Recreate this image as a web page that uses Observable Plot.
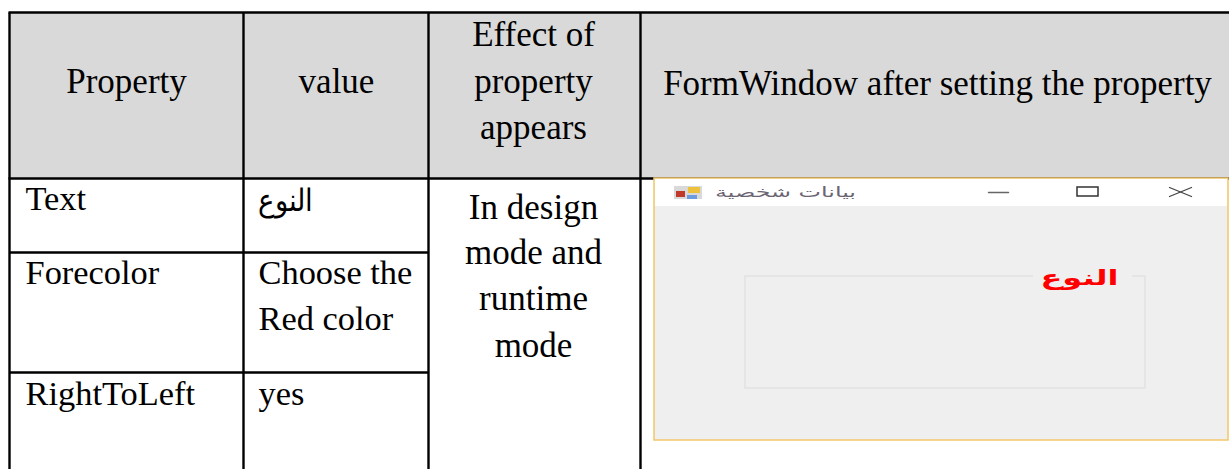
<!DOCTYPE html>
<html>
<head>
<meta charset="utf-8">
<script src="https://cdn.jsdelivr.net/npm/d3@7"></script>
<script src="https://cdn.jsdelivr.net/npm/@observablehq/plot@0.6"></script>
<style>html,body{margin:0;padding:0;background:#fff;overflow:hidden}svg{display:block}</style>
</head>
<body>
<div id="chart"></div>
<script>
const headerFills = [{x1: 9, x2: 1229, y1: 12, y2: 178}];
const tableRules = [
  {x1: 8, x2: 1229, y1: 12, y2: 12},
  {x1: 8, x2: 1229, y1: 178, y2: 178},
  {x1: 9, x2: 428, y1: 252, y2: 252},
  {x1: 9, x2: 428, y1: 372, y2: 372},
  {x1: 9, x2: 9, y1: 12, y2: 469},
  {x1: 243, x2: 243, y1: 12, y2: 469},
  {x1: 428, x2: 428, y1: 12, y2: 469},
  {x1: 640, x2: 640, y1: 12, y2: 469}
];
const centeredCells = [
  {x: 126, y: 81, t: "Property"},
  {x: 336, y: 81, t: "value"},
  {x: 533, y: 34, t: "Effect of"},
  {x: 533, y: 81, t: "property"},
  {x: 533, y: 127, t: "appears"},
  {x: 937, y: 83, t: "FormWindow after setting the property"},
  {x: 533, y: 207, t: "In design"},
  {x: 533, y: 252, t: "mode and"},
  {x: 533, y: 298, t: "runtime"},
  {x: 533, y: 345, t: "mode"}
];
const leftCells = [
  {x: 25, y: 198, t: "Text"},
  {x: 25, y: 272, t: "Forecolor"},
  {x: 25, y: 393, t: "RightToLeft"},
  {x: 258, y: 272, t: "Choose the"},
  {x: 258, y: 318, t: "Red color"},
  {x: 258, y: 393, t: "yes"}
];
const arabicCell = [{x: 285, y: 201, t: "النوع"}];
const windowFrame = [{x1: 654, x2: 1228, y1: 178, y2: 440}];
const titleBar = [{x1: 655, x2: 1227, y1: 179, y2: 206}];
const groupBox = [{x1: 745, x2: 1145, y1: 276, y2: 388}];
const legendGap = [{x1: 1033, x2: 1132, y1: 270, y2: 282}];
const iconParts = [
  {x1: 674, x2: 702, y1: 186, y2: 199, c: "#d9d9d9"},
  {x1: 676, x2: 685, y1: 191, y2: 197, c: "#c0392b"},
  {x1: 688, x2: 700, y1: 187, y2: 193, c: "#eec13c"},
  {x1: 687, x2: 697, y1: 195, y2: 199, c: "#6c9be0"}
];
const minimizeLine = [{x: 988, y: 192}, {x: 1008, y: 192}];
const maximizeBox = [{x1: 1077, x2: 1098, y1: 187, y2: 196}];
const closeA = [{x: 1169, y: 187}, {x: 1191, y: 196}];
const closeB = [{x: 1169, y: 196}, {x: 1191, y: 187}];
const windowTitle = [{x: 785, y: 192, t: "بيانات شخصية"}];
const legendLabel = [{x: 1079, y: 278, t: "النوع"}];

const serif = "Liberation Serif";
const plot = Plot.plot({
  width: 1229,
  height: 469,
  margin: 0,
  x: {axis: null, domain: [0, 1229], range: [0, 1229]},
  y: {axis: null, domain: [0, 469], range: [0, 469]},
  marks: [
    Plot.rect(headerFills, {x1: "x1", x2: "x2", y1: "y1", y2: "y2", fill: "#d9d9d9"}),
    Plot.link(tableRules, {x1: "x1", x2: "x2", y1: "y1", y2: "y2", stroke: "#000", strokeWidth: 2.4}),
    Plot.text(centeredCells, {x: "x", y: "y", text: "t", fontFamily: serif, fontSize: 35, fill: "#000", textAnchor: "middle"}),
    Plot.text(leftCells, {x: "x", y: "y", text: "t", fontFamily: serif, fontSize: 34.4, fill: "#000", textAnchor: "start"}),
    Plot.text(arabicCell, {x: "x", y: "y", text: "t", fontFamily: serif, fontSize: 31, fill: "#000", textAnchor: "middle", className: "cell-arabic"}),
    Plot.rect(windowFrame, {x1: "x1", x2: "x2", y1: "y1", y2: "y2", fill: "#efefef", stroke: "#f2c76a", strokeWidth: 1.5}),
    Plot.rect(titleBar, {x1: "x1", x2: "x2", y1: "y1", y2: "y2", fill: "#fff"}),
    Plot.rect(iconParts, {x1: "x1", x2: "x2", y1: "y1", y2: "y2", fill: "c"}),
    Plot.text(windowTitle, {x: "x", y: "y", text: "t", fontFamily: "DejaVu Sans", fontSize: 14, fill: "#6a6472", textAnchor: "middle", className: "win-title"}),
    Plot.line(minimizeLine, {x: "x", y: "y", stroke: "#666", strokeWidth: 1.5}),
    Plot.rect(maximizeBox, {x1: "x1", x2: "x2", y1: "y1", y2: "y2", fill: "none", stroke: "#333", strokeWidth: 1.5}),
    Plot.line(closeA, {x: "x", y: "y", stroke: "#444", strokeWidth: 1.3}),
    Plot.line(closeB, {x: "x", y: "y", stroke: "#444", strokeWidth: 1.3}),
    Plot.rect(groupBox, {x1: "x1", x2: "x2", y1: "y1", y2: "y2", fill: "none", stroke: "#e2e2e2", strokeWidth: 1.5}),
    Plot.rect(legendGap, {x1: "x1", x2: "x2", y1: "y1", y2: "y2", fill: "#efefef"}),
    Plot.text(legendLabel, {x: "x", y: "y", text: "t", fontFamily: "DejaVu Sans", fontWeight: "bold", fontSize: 21, fill: "#ff0000", textAnchor: "middle", className: "legend-label"})
  ]
});
d3.select(plot).selectAll(".cell-arabic text").attr("textLength", 55).attr("lengthAdjust", "spacingAndGlyphs");
d3.select(plot).selectAll(".win-title text").attr("textLength", 141).attr("lengthAdjust", "spacingAndGlyphs");
d3.select(plot).selectAll(".legend-label text").attr("textLength", 78).attr("lengthAdjust", "spacingAndGlyphs");
document.getElementById("chart").appendChild(plot);
</script>
</body>
</html>
